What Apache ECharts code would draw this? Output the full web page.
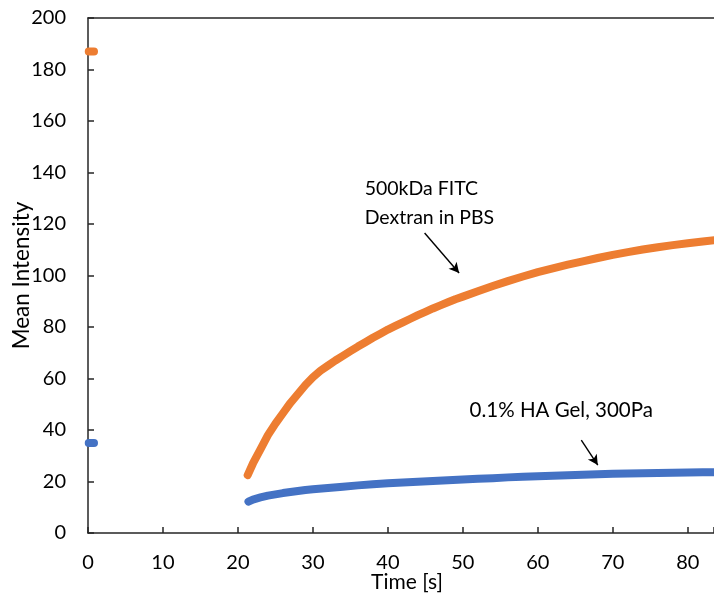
<!DOCTYPE html>
<html>
<head>
<meta charset="utf-8">
<script src="https://cdn.jsdelivr.net/npm/echarts@6/dist/echarts.min.js"></script>
<style>html,body{margin:0;padding:0;background:#fff}#c{width:714px;height:598px}</style>
</head>
<body>
<div id="c"></div>
<script>
// Tick values
var xTicks = [0, 10, 20, 30, 40, 50, 60, 70, 80];
var yTicks = [0, 20, 40, 60, 80, 100, 120, 140, 160, 180, 200];

// Orange: 500kDa FITC Dextran in PBS  [time s, mean intensity]
var dextranPre = [[0.1, 187], [0.5, 187], [0.8, 187]];
var dextranPost = [
  [21.3, 22.5], [22, 27], [23, 32.5], [24, 38], [25, 42.5], [26, 46.5], [27, 50.5], [28, 54],
  [29, 57.5], [30, 60.5], [31, 63], [32, 65], [33, 67], [34, 68.8], [35, 70.6], [36, 72.4],
  [37, 74.1], [38, 75.8], [39, 77.4], [40, 79], [41, 80.4], [42, 81.8], [43, 83.2], [44, 84.6],
  [45, 85.9], [46, 87.2], [47, 88.4], [48, 89.6], [49, 90.8], [50, 91.8], [52, 93.9], [54, 95.9],
  [56, 97.8], [58, 99.6], [60, 101.3], [62, 102.8], [64, 104.2], [66, 105.5], [68, 106.8],
  [70, 108], [72, 109.1], [74, 110.1], [76, 111], [78, 111.8], [80, 112.5], [82, 113.2], [84, 113.9]
];

// Blue: 0.1% HA Gel, 300Pa
var gelPre = [[0.1, 35], [0.5, 35], [0.8, 35]];
var gelPost = [
  [21.4, 12.2], [22, 13], [23, 13.8], [24, 14.5], [25, 15], [26, 15.5], [27, 15.9], [28, 16.3],
  [29, 16.7], [30, 17], [32, 17.5], [34, 18], [36, 18.5], [38, 18.9], [40, 19.3], [42, 19.6],
  [44, 19.9], [46, 20.2], [48, 20.5], [50, 20.8], [52, 21.1], [54, 21.3], [56, 21.6], [58, 21.8],
  [60, 22], [62, 22.2], [64, 22.4], [66, 22.6], [68, 22.8], [70, 23], [72, 23.1], [74, 23.2],
  [76, 23.3], [78, 23.4], [80, 23.5], [82, 23.6], [84, 23.6]
];

// Annotation texts and arrows (data coordinates)
var labelDextran = ['500kDa FITC', 'Dextran in PBS'];
var labelDextranAt = [36.9, 139.5];
var arrowDextran = [[44.9, 116.5], [49.5, 101]];
var labelGel = ['0.1% HA Gel, 300Pa'];
var labelGelAt = [50.9, 47.8];
var arrowGel = [[65.8, 36.1], [68.0, 26.4]];

var ORANGE = '#ED7D31', BLUE = '#4472C4', AX = '#262626';
var FONT = 'Lato';

function seg(pre, post) { return pre.concat([[null, null]], post); }

var chart = echarts.init(document.getElementById('c'), null, {renderer: 'canvas'});
var lineSeries = function (data, color, z) {
  return {
    type: 'line', data: data, symbol: 'none', connectNulls: false, z: z, clip: false,
    lineStyle: {color: color, width: 8, cap: 'round', join: 'round'}, silent: true, animation: false
  };
};
var option = {
  animation: false,
  grid: {left: 88, top: 18, bottom: 65, right: 0, containLabel: false, outerBoundsMode: 'none'},
  xAxis: [{
    type: 'value', min: 0, max: 83.5, interval: 10, position: 'bottom',
    name: 'Time [s]', nameLocation: 'middle', nameGap: 39, nameMoveOverlap: false,
    nameTextStyle: {fontFamily: FONT, fontSize: 21, color: '#000', padding: [0, 0, 0, 12]},
    axisLine: {show: true, lineStyle: {color: AX, width: 1.5}},
    axisTick: {show: true, inside: true, length: 6, lineStyle: {color: AX, width: 1.5}},
    axisLabel: {margin: 20, fontFamily: FONT, fontSize: 20, color: '#000',
      formatter: function (v) { return xTicks.indexOf(v) >= 0 ? String(v) : ''; }},
    splitLine: {show: false}
  }, {
    type: 'value', min: 0, max: 83.5, position: 'top',
    axisLine: {show: true, onZero: false, lineStyle: {color: AX, width: 1.5}},
    axisTick: {show: false}, axisLabel: {show: false}, splitLine: {show: false}
  }],
  yAxis: {
    type: 'value', min: 0, max: 200, interval: 20,
    name: 'Mean Intensity', nameLocation: 'middle', nameGap: 55, nameMoveOverlap: false,
    nameTextStyle: {fontFamily: FONT, fontSize: 22.5, color: '#000'},
    axisLine: {show: true, lineStyle: {color: AX, width: 1.5}},
    axisTick: {show: true, inside: true, length: 6, lineStyle: {color: AX, width: 1.5}},
    axisLabel: {margin: 22, fontFamily: FONT, fontSize: 20, color: '#000',
      formatter: function (v) { return yTicks.indexOf(v) >= 0 ? String(v) : ''; }},
    splitLine: {show: false}
  },
  series: [
    lineSeries(seg(gelPre, gelPost), BLUE, 3),
    lineSeries(seg(dextranPre, dextranPost), ORANGE, 4),
    {
      type: 'line', data: [], silent: true,
      markLine: {
        silent: true, symbol: ['none', 'arrow'], symbolSize: [8, 10], animation: false,
        label: {show: false},
        lineStyle: {color: '#000', width: 1.4, type: 'solid'},
        data: [
          [{coord: arrowDextran[0]}, {coord: arrowDextran[1]}],
          [{coord: arrowGel[0]}, {coord: arrowGel[1]}]
        ]
      }
    }
  ]
};
chart.setOption(option);

var p1 = chart.convertToPixel({xAxisIndex: 0, yAxisIndex: 0}, labelDextranAt);
var p2 = chart.convertToPixel({xAxisIndex: 0, yAxisIndex: 0}, labelGelAt);
chart.setOption({
  graphic: [
    {type: 'text', left: p1[0], top: p1[1], silent: true,
      style: {text: labelDextran.join('\n'), fontFamily: FONT, fontSize: 19.5, lineHeight: 29, fill: '#000'}},
    {type: 'text', x: p2[0], y: p2[1], silent: true,
      style: {text: labelGel.join('\n'), fontFamily: FONT, fontSize: 20.5, fill: '#000', verticalAlign: 'middle'}}
  ]
});
</script>
</body>
</html>
